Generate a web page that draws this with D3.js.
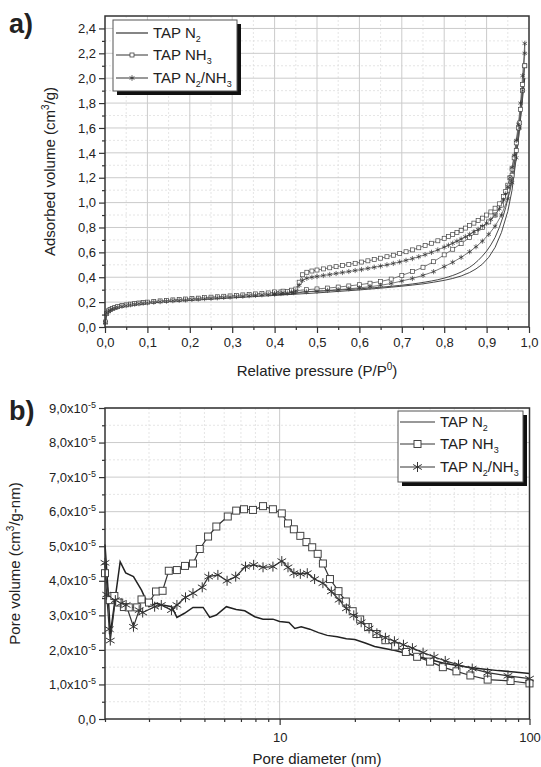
<!DOCTYPE html>
<html>
<head>
<meta charset="utf-8">
<script src="https://cdn.jsdelivr.net/npm/d3@7"></script>
<style>
  body { margin: 0; background: #fff; }
  svg { font-family: "Liberation Sans", Arial, sans-serif; fill: #222; }
  .grid-major { stroke: #cbcbcb; stroke-width: 1; }
  .grid-minor { stroke: #dedede; stroke-width: 0.8; stroke-dasharray: 2,2; }
  .axis text { font-size: 13px; fill: #222; }
  .axis line { stroke: #333; stroke-width: 1.2; }
  .frame { fill: none; stroke: #333; stroke-width: 1.5; }
</style>
</head>
<body>
<div id="wrapper"></div>
<script>
// ---------- (a) isotherms ----------
const pAds = [0.001,0.004,0.008,0.012,0.017,0.023,0.03,0.04,0.05,0.06,0.07,0.08,0.09,0.1,0.115,0.13,0.145,0.16,0.175,0.19,0.205,0.22,0.235,0.25,0.265,0.28,0.295,0.31,0.325,0.34,0.355,0.37,0.385,0.4,0.415,0.43,0.445,
  0.475,0.5,0.525,0.55,0.575,0.6,0.625,0.65,0.675,0.7,0.725,0.75,0.775,0.8,0.82,0.84,0.86,0.875,0.89,0.905,0.92,0.935,0.95,0.96,0.97,0.978,0.985,0.99];
const pDes = [0.99,0.985,0.98,0.975,0.97,0.965,0.96,0.955,0.95,0.945,0.94,0.93,0.92,0.91,0.9,0.89,0.88,0.87,0.86,0.85,0.84,0.83,0.82,0.81,0.8,0.785,0.77,0.755,0.74,0.725,0.71,0.695,0.68,0.665,0.65,0.635,0.62,0.605,0.59,0.575,0.56,0.545,0.53,0.515,0.5,0.488,0.476,0.466,0.458,0.45,0.44,0.42,0.4];

const n2Ads = [0.03,0.10,0.12,0.13,0.14,0.147,0.154,0.162,0.168,0.174,0.179,0.183,0.187,0.19,0.195,0.199,0.203,0.206,0.209,0.212,0.215,0.218,0.221,0.224,0.227,0.23,0.233,0.236,0.239,0.242,0.245,0.248,0.251,0.254,0.257,0.26,0.263,
  0.269,0.274,0.28,0.286,0.292,0.298,0.305,0.312,0.32,0.328,0.337,0.347,0.36,0.375,0.39,0.41,0.438,0.467,0.505,0.56,0.64,0.76,0.93,1.1,1.36,1.6,1.84,2.0];
const n2Des = [2.0,1.88,1.7,1.55,1.42,1.3,1.2,1.11,1.03,0.96,0.9,0.8,0.72,0.66,0.61,0.57,0.535,0.505,0.48,0.46,0.442,0.427,0.414,0.403,0.393,0.38,0.37,0.361,0.353,0.346,0.34,0.334,0.329,0.324,0.32,0.316,0.312,0.308,0.305,0.302,0.299,0.296,0.293,0.29,0.288,0.286,0.284,0.281,0.276,0.27,0.266,0.262,0.258];

const nh3Ads = [0.04,0.11,0.13,0.14,0.15,0.157,0.164,0.172,0.178,0.184,0.189,0.193,0.197,0.2,0.205,0.21,0.214,0.218,0.222,0.225,0.229,0.232,0.236,0.24,0.243,0.247,0.25,0.254,0.258,0.262,0.266,0.27,0.274,0.278,0.282,0.286,0.29,
  0.3,0.306,0.313,0.321,0.33,0.34,0.352,0.366,0.385,0.415,0.445,0.48,0.525,0.58,0.625,0.67,0.72,0.76,0.8,0.845,0.9,0.98,1.1,1.22,1.42,1.64,1.9,2.1];
const nh3Des = [2.1,1.95,1.75,1.6,1.48,1.36,1.27,1.2,1.14,1.09,1.05,0.99,0.955,0.925,0.9,0.875,0.855,0.835,0.815,0.795,0.777,0.76,0.744,0.728,0.713,0.693,0.673,0.655,0.637,0.62,0.605,0.59,0.577,0.565,0.553,0.542,0.532,0.522,0.512,0.503,0.494,0.485,0.476,0.467,0.458,0.45,0.44,0.42,0.36,0.305,0.296,0.288,0.282];

const mixAds = [0.035,0.105,0.125,0.135,0.145,0.152,0.159,0.167,0.173,0.179,0.184,0.188,0.192,0.195,0.2,0.204,0.208,0.212,0.215,0.218,0.222,0.225,0.228,0.232,0.235,0.238,0.241,0.245,0.248,0.252,0.255,0.259,0.262,0.266,0.269,0.273,0.276,
  0.283,0.288,0.294,0.3,0.307,0.315,0.324,0.335,0.35,0.37,0.39,0.415,0.445,0.485,0.52,0.56,0.605,0.645,0.69,0.745,0.81,0.9,1.03,1.16,1.36,1.6,1.9,2.2];
const mixDes = [2.28,2.02,1.8,1.63,1.5,1.38,1.28,1.2,1.13,1.07,1.02,0.95,0.9,0.865,0.835,0.81,0.785,0.765,0.745,0.725,0.707,0.69,0.673,0.657,0.642,0.62,0.6,0.582,0.565,0.55,0.536,0.523,0.511,0.5,0.49,0.48,0.471,0.462,0.454,0.446,0.438,0.43,0.422,0.414,0.406,0.4,0.392,0.375,0.335,0.292,0.282,0.275,0.268];

const xTicksA = [0,0.1,0.2,0.3,0.4,0.5,0.6,0.7,0.8,0.9,1.0];
const yTicksA = [0,0.2,0.4,0.6,0.8,1.0,1.2,1.4,1.6,1.8,2.0,2.2,2.4];

// ---------- (b) pore size distribution (values in 1e-5 cm3/g-nm) ----------
const n2D = [2.0,2.05,2.1,2.3,2.42,2.6,2.8,3.0,3.2,3.4,3.7,3.88,4.16,4.5,4.94,5.25,5.58,6.12,6.7,7.25,7.95,8.58,9.4,10,10.9,11.5,12.2,13.2,14.3,15.5,17,18.5,20,22,24,26,29,32,36,40,45,50,57,65,75,87,100];
const n2V = [5.05,3.9,2.45,4.55,4.23,4.12,3.73,3.25,3.35,3.3,3.25,2.94,3.06,3.23,3.23,2.94,3.01,3.25,3.17,3.13,2.96,2.89,2.89,2.82,2.79,2.62,2.67,2.6,2.5,2.42,2.38,2.32,2.3,2.2,2.1,2.05,1.98,1.9,1.8,1.72,1.62,1.56,1.5,1.45,1.4,1.36,1.32];

const nh3D = [2.0,2.09,2.18,2.28,2.38,2.49,2.69,2.8,3.0,3.2,3.4,3.6,3.88,4.18,4.5,4.79,5.17,5.58,6.2,6.7,7.2,7.82,8.58,9.4,10.2,10.8,11.4,12.1,12.8,13.5,14.2,14.9,15.9,17.2,18.4,19.6,21,22.6,24.4,26.5,29,32,35.5,40,45,51,58,68,84,100];
const nh3V = [4.22,3.44,3.56,3.37,3.24,3.23,3.23,3.46,3.37,3.69,3.71,4.29,4.31,4.43,4.5,4.92,5.28,5.57,5.86,6.03,6.07,6.05,6.16,6.07,5.95,5.66,5.49,5.3,5.12,4.97,4.78,4.5,4.05,3.7,3.4,3.12,2.88,2.66,2.46,2.28,2.1,1.94,1.8,1.66,1.5,1.38,1.26,1.14,1.1,1.03];

const mixD = [2.0,2.03,2.08,2.1,2.2,2.32,2.43,2.6,2.74,2.83,3.16,3.36,3.69,3.88,4.2,4.5,4.9,5.2,5.66,6.16,6.67,7.3,7.87,8.58,9.4,10.2,10.8,11.4,12.1,12.9,13.8,14.9,16.1,17.3,18.5,19.8,21.2,22.8,24.5,26.5,28.8,31.3,34,37.5,41.5,46,52,59,68,82,100];
const mixV = [4.52,3.6,2.6,2.27,3.44,3.35,3.3,2.67,3.15,3.08,3.25,3.3,3.15,3.3,3.52,3.64,3.81,4.12,4.17,4.0,4.12,4.41,4.46,4.39,4.41,4.57,4.39,4.22,4.2,4.22,4.05,3.93,3.69,3.45,3.2,3.0,2.8,2.62,2.48,2.35,2.25,2.15,2.05,1.92,1.8,1.68,1.57,1.46,1.34,1.25,1.17];

const xTicksB = [10, 100];
const xMinorB = [2,3,4,5,6,7,8,9,20,30,40,50,60,70,80,90];
const yTicksB = [0,1,2,3,4,5,6,7,8,9];

const legendNames = [
  [["TAP N"], ["2", "sub"]],
  [["TAP NH"], ["3", "sub"]],
  [["TAP N"], ["2", "sub"], ["/NH"], ["3", "sub"]]
];

function comma(v) { return v.toFixed(1).replace(".", ","); }

// text with sub/superscript parts; the baseline is restored on the next part
function richText(sel, parts, small) {
  let shift = 0;
  parts.forEach(([str, kind]) => {
    const want = kind === "sub" ? 4 : kind === "sup" ? -6 : 0;
    const t = sel.append("tspan").text(str);
    if (want !== shift) t.attr("dy", want - shift);
    if (kind) t.attr("font-size", small);
    shift = want;
  });
}

function squareMark(g, x, y, s, sw) {
  g.append("rect")
    .attr("x", x - s / 2).attr("y", y - s / 2)
    .attr("width", s).attr("height", s)
    .attr("fill", "#fff").attr("stroke", "#444").attr("stroke-width", sw);
}

function starMark(g, x, y, r, sw) {
  const a = Math.PI / 6;
  const d = `M${x},${y - r}L${x},${y + r}`
    + `M${x - r * Math.cos(a)},${y - r * Math.sin(a)}L${x + r * Math.cos(a)},${y + r * Math.sin(a)}`
    + `M${x - r * Math.cos(a)},${y + r * Math.sin(a)}L${x + r * Math.cos(a)},${y - r * Math.sin(a)}`;
  g.append("path").attr("d", d).attr("stroke", "#333").attr("stroke-width", sw).attr("fill", "none");
}

function drawLegend(svg, x, y, w, h, rows, lineX0, lineX1, textX, mark) {
  svg.append("rect").attr("x", x + 4).attr("y", y + 4).attr("width", w).attr("height", h).attr("fill", "#111");
  svg.append("rect").attr("x", x).attr("y", y).attr("width", w).attr("height", h)
    .attr("fill", "#fff").attr("stroke", "#555").attr("stroke-width", 1);
  rows.forEach((ry, i) => {
    svg.append("line").attr("x1", lineX0).attr("x2", lineX1).attr("y1", ry).attr("y2", ry)
      .attr("stroke", "#333").attr("stroke-width", i === 0 ? 1.2 : 1);
    if (i > 0) mark(i, (lineX0 + lineX1) / 2, ry);
    const t = svg.append("text").attr("x", textX).attr("y", ry + 5).attr("font-size", 15).attr("fill", "#222");
    richText(t, legendNames[i], 9);
  });
}

function minorAxis(svg, axis, transform) {
  const g = svg.append("g").attr("class", "axis").attr("transform", transform).call(axis);
  g.selectAll("text").remove();
  return g;
}

function drawChart() {
  const width = 541, height = 767;
  const svg = d3.select("#wrapper").append("svg")
    .attr("width", width).attr("height", height);

  // ======================= panel a =======================
  const A = { left: 105, right: 529, top: 16, bottom: 327 };
  const xA = d3.scaleLinear().domain([0, 1]).range([A.left, A.right]);
  const yA = d3.scaleLinear().domain([0, 2.5]).range([A.bottom, A.top]);

  const gA = svg.append("g");
  // grid
  gA.selectAll(".vminA").data(d3.range(0.05, 1, 0.1)).enter().append("line")
    .attr("class", "grid-minor").attr("x1", d => xA(d)).attr("x2", d => xA(d)).attr("y1", A.top).attr("y2", A.bottom);
  gA.selectAll(".hminA").data(d3.range(0.1, 2.5, 0.2)).enter().append("line")
    .attr("class", "grid-minor").attr("y1", d => yA(d)).attr("y2", d => yA(d)).attr("x1", A.left).attr("x2", A.right);
  gA.selectAll(".vmajA").data(xTicksA.slice(1, -1)).enter().append("line")
    .attr("class", "grid-major").attr("x1", d => xA(d)).attr("x2", d => xA(d)).attr("y1", A.top).attr("y2", A.bottom);
  gA.selectAll(".hmajA").data(yTicksA.slice(1)).enter().append("line")
    .attr("class", "grid-major").attr("y1", d => yA(d)).attr("y2", d => yA(d)).attr("x1", A.left).attr("x2", A.right);

  const lineA = d3.line().x(d => xA(d[0])).y(d => yA(d[1]));
  const iso = (ads, des) => pAds.map((p, i) => [p, ads[i]]).concat(pDes.map((p, i) => [p, des[i]]));

  const n2Iso = iso(n2Ads, n2Des);
  const nh3Iso = iso(nh3Ads, nh3Des);
  const mixIso = iso(mixAds, mixDes);

  gA.append("path").attr("d", lineA(n2Iso)).attr("fill", "none").attr("stroke", "#333").attr("stroke-width", 0.9);
  gA.append("path").attr("d", lineA(nh3Iso)).attr("fill", "none").attr("stroke", "#555").attr("stroke-width", 0.8);
  gA.append("path").attr("d", lineA(mixIso)).attr("fill", "none").attr("stroke", "#555").attr("stroke-width", 0.8);
  nh3Iso.forEach(d => squareMark(gA, xA(d[0]), yA(d[1]), 4, 0.7));
  mixIso.forEach(d => starMark(gA, xA(d[0]), yA(d[1]), 2.6, 0.7));

  // axes
  svg.append("g").attr("class", "axis").attr("transform", `translate(0,${A.bottom})`)
    .call(d3.axisBottom(xA).tickValues(xTicksA).tickSize(6).tickPadding(5).tickFormat(comma));
  minorAxis(svg, d3.axisBottom(xA).tickValues(d3.range(0.05, 1, 0.1)).tickSize(3), `translate(0,${A.bottom})`);
  svg.append("g").attr("class", "axis").attr("transform", `translate(${A.left},0)`)
    .call(d3.axisLeft(yA).tickValues(yTicksA).tickSize(6).tickPadding(3).tickFormat(comma));
  minorAxis(svg, d3.axisLeft(yA).tickValues(d3.range(0.1, 2.5, 0.2)).tickSize(3), `translate(${A.left},0)`);
  svg.selectAll(".axis .domain").remove();
  svg.append("rect").attr("class", "frame").attr("x", A.left).attr("y", A.top)
    .attr("width", A.right - A.left).attr("height", A.bottom - A.top);

  const xtA = svg.append("text").attr("x", (A.left + A.right) / 2).attr("y", 376)
    .attr("text-anchor", "middle").attr("font-size", 15);
  richText(xtA, [["Relative pressure (P/P"], ["0", "sup"], [")"]], 10);
  const ytA = svg.append("text").attr("transform", `translate(55,${(A.top + A.bottom) / 2}) rotate(-90)`)
    .attr("text-anchor", "middle").attr("font-size", 15);
  richText(ytA, [["Adsorbed volume (cm"], ["3", "sup"], ["/g)"]], 10);
  svg.append("text").attr("x", 9).attr("y", 33).attr("font-size", 27).attr("font-weight", "bold").text("a)");

  drawLegend(svg, 113, 20, 124, 71, [33, 55, 78], 116, 148, 153, (i, x, y) => {
    if (i === 1) squareMark(svg, x, y, 4, 0.8);
    else starMark(svg, x, y, 2.8, 0.8);
  });

  // ======================= panel b =======================
  const B = { left: 105, right: 529.5, top: 408, bottom: 719 };
  const xB = d3.scaleLog().domain([2, 100]).range([B.left, B.right]);
  const yB = d3.scaleLinear().domain([0, 9]).range([B.bottom, B.top]);

  const gB = svg.append("g");
  gB.selectAll(".vminB").data(xMinorB.slice(1)).enter().append("line")
    .attr("class", "grid-minor").attr("x1", d => xB(d)).attr("x2", d => xB(d)).attr("y1", B.top).attr("y2", B.bottom);
  gB.selectAll(".hminB").data(d3.range(0.5, 9, 1)).enter().append("line")
    .attr("class", "grid-minor").attr("y1", d => yB(d)).attr("y2", d => yB(d)).attr("x1", B.left).attr("x2", B.right);
  gB.selectAll(".vmajB").data([10]).enter().append("line")
    .attr("class", "grid-major").attr("x1", d => xB(d)).attr("x2", d => xB(d)).attr("y1", B.top).attr("y2", B.bottom);
  gB.selectAll(".hmajB").data(yTicksB.slice(1)).enter().append("line")
    .attr("class", "grid-major").attr("y1", d => yB(d)).attr("y2", d => yB(d)).attr("x1", B.left).attr("x2", B.right);

  const lineB = d3.line().x(d => xB(d[0])).y(d => yB(d[1]));
  const n2Psd = n2D.map((d, i) => [d, n2V[i]]);
  const nh3Psd = nh3D.map((d, i) => [d, nh3V[i]]);
  const mixPsd = mixD.map((d, i) => [d, mixV[i]]);

  gB.append("path").attr("d", lineB(n2Psd)).attr("fill", "none").attr("stroke", "#222").attr("stroke-width", 1.5);
  gB.append("path").attr("d", lineB(nh3Psd)).attr("fill", "none").attr("stroke", "#333").attr("stroke-width", 1.2);
  gB.append("path").attr("d", lineB(mixPsd)).attr("fill", "none").attr("stroke", "#333").attr("stroke-width", 1.2);
  nh3Psd.forEach(d => squareMark(gB, xB(d[0]), yB(d[1]), 7, 1));
  mixPsd.forEach(d => starMark(gB, xB(d[0]), yB(d[1]), 5, 1));

  svg.append("g").attr("class", "axis").attr("transform", `translate(0,${B.bottom})`)
    .call(d3.axisBottom(xB).tickValues(xTicksB).tickSize(6).tickPadding(8).tickFormat(d3.format("d")));
  minorAxis(svg, d3.axisBottom(xB).tickValues(xMinorB).tickSize(3), `translate(0,${B.bottom})`);
  const yAxB = svg.append("g").attr("class", "axis").attr("transform", `translate(${B.left},0)`)
    .call(d3.axisLeft(yB).tickValues(yTicksB).tickSize(6).tickPadding(3));
  yAxB.selectAll(".tick text").each(function(d) {
    const t = d3.select(this).text(null);
    if (d === 0) { t.text("0,0"); return; }
    t.append("tspan").text(comma(d) + "x10");
    t.append("tspan").attr("dy", -5).attr("font-size", 9).text("-5");
  });
  minorAxis(svg, d3.axisLeft(yB).tickValues(d3.range(0.5, 9, 1)).tickSize(3), `translate(${B.left},0)`);
  svg.selectAll(".axis .domain").remove();
  svg.append("rect").attr("class", "frame").attr("x", B.left).attr("y", B.top)
    .attr("width", B.right - B.left).attr("height", B.bottom - B.top);

  svg.append("text").attr("x", 317).attr("y", 764).attr("text-anchor", "middle").attr("font-size", 15)
    .text("Pore diameter (nm)");
  const ytB = svg.append("text").attr("transform", `translate(20,${(B.top + B.bottom) / 2}) rotate(-90)`)
    .attr("text-anchor", "middle").attr("font-size", 15);
  richText(ytB, [["Pore volume (cm"], ["3", "sup"], ["/g-nm)"]], 10);
  svg.append("text").attr("x", 9).attr("y", 420).attr("font-size", 27).attr("font-weight", "bold").text("b)");

  drawLegend(svg, 398, 411, 125, 71, [422, 444, 467], 400, 435, 440, (i, x, y) => {
    if (i === 1) squareMark(svg, x, y, 7, 1);
    else starMark(svg, x, y, 5, 1);
  });
}
drawChart();
</script>
</body>
</html>
